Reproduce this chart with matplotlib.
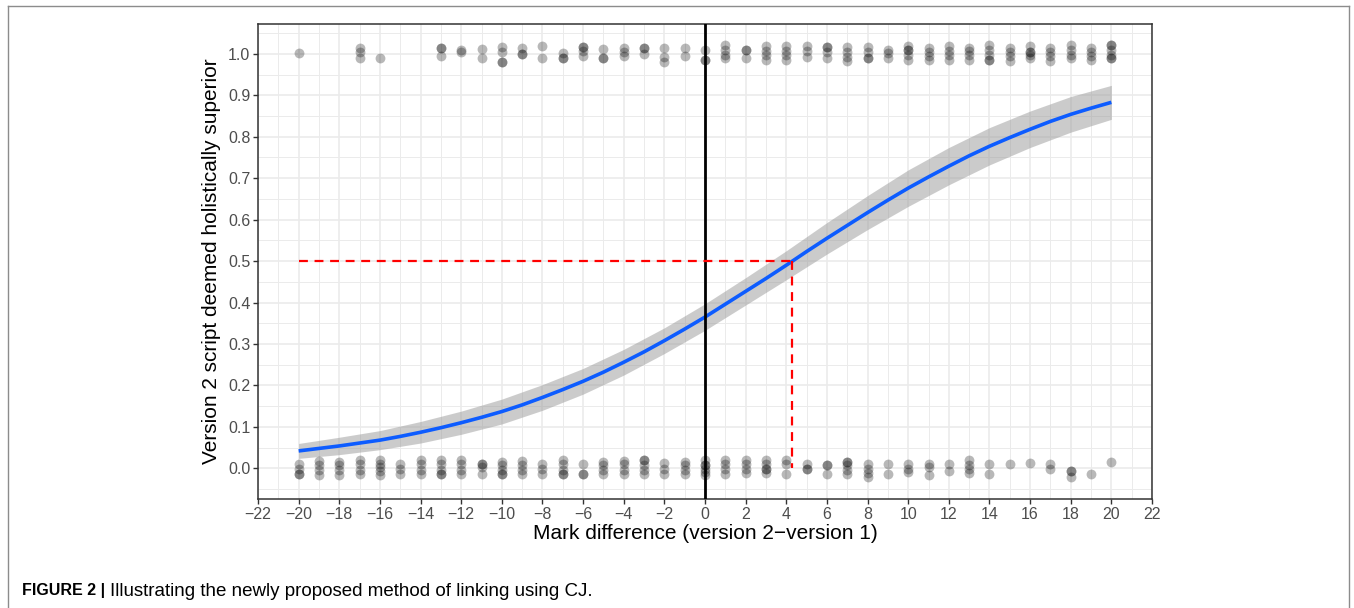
# logistic link plot, CJ mark difference
import numpy as np
import matplotlib
matplotlib.use('Agg')
from matplotlib import pyplot as plt
from matplotlib.lines import Line2D

plt.rcParams['font.family'] = ['Liberation Sans', 'DejaVu Sans']

# fitted curve, x = -20..20
curve_x = list(range(-20, 21))
curve_p = [0.042, 0.048, 0.054, 0.061, 0.068, 0.077, 0.087, 0.098, 0.110, 0.123,
           0.137, 0.153, 0.171, 0.190, 0.210, 0.232, 0.256, 0.281, 0.308, 0.336,
           0.365, 0.396, 0.427, 0.458, 0.490, 0.523, 0.555, 0.586, 0.617, 0.647,
           0.676, 0.703, 0.729, 0.754, 0.777, 0.798, 0.818, 0.837, 0.854, 0.869,
           0.883]

# confidence band, x = -20..20 by 2
band_x = list(range(-20, 21, 2))
band_lo = [0.024, 0.033, 0.045, 0.061, 0.082, 0.107, 0.140, 0.179, 0.225, 0.277,
           0.333, 0.394, 0.455, 0.517, 0.576, 0.632, 0.684, 0.732, 0.774, 0.811,
           0.842]
band_hi = [0.060, 0.075, 0.091, 0.113, 0.138, 0.167, 0.202, 0.241, 0.287, 0.339,
           0.397, 0.460, 0.525, 0.593, 0.658, 0.720, 0.774, 0.822, 0.862, 0.897,
           0.924]

# jittered outcomes (repeats = overlapping observations)
top_pts = {
    -20: [0.003], -17: [0.015, 0.005, -0.009], -16: [-0.009],
    -13: [0.014, 0.014, -0.006], -12: [0.010, 0.005], -11: [0.012, -0.010],
    -10: [0.017, 0.005, -0.020, -0.020], -9: [0.014, 0.0, 0.0],
    -8: [0.020, -0.011], -7: [0.003, -0.010, -0.010],
    -6: [0.017, 0.017, 0.007, -0.006], -5: [0.012, -0.011, -0.011],
    -4: [0.013, 0.005, -0.006], -3: [0.015, 0.015, 0.0], -2: [0.013, -0.007, -0.019],
    -1: [0.013, -0.005], 0: [0.009, -0.015, -0.015],
    1: [0.021, 0.009, -0.003, -0.011], 2: [0.009, 0.009, -0.011],
    3: [0.018, 0.007, -0.003, -0.015], 4: [0.018, 0.007, -0.003, -0.015],
    5: [0.018, 0.007, -0.007], 6: [0.017, 0.017, 0.005, -0.011],
    7: [0.017, 0.005, -0.007, -0.017], 8: [0.017, 0.005, -0.011, -0.011],
    9: [0.010, 0.001, -0.009], 10: [0.018, 0.009, 0.009, -0.003, -0.014],
    11: [0.015, 0.005, -0.006, -0.015], 12: [0.018, 0.007, -0.003, -0.015],
    13: [0.015, 0.007, -0.003, -0.014], 14: [0.021, 0.009, -0.003, -0.015, -0.015],
    15: [0.015, 0.005, -0.006, -0.017], 16: [0.018, 0.005, 0.005, -0.003, -0.011],
    17: [0.013, 0.005, -0.006, -0.017], 18: [0.021, 0.009, -0.003, -0.011],
    19: [0.015, 0.005, -0.006, -0.014], 20: [0.021, 0.021, 0.010, -0.003, -0.011, -0.011],
}
bottom_pts = {
    -20: [0.010, -0.001, -0.013, -0.013], -19: [0.018, 0.007, -0.005, -0.017],
    -18: [0.015, 0.007, -0.003, -0.017], -17: [0.019, 0.010, -0.003, -0.014],
    -16: [0.021, 0.011, 0.003, -0.006, -0.017], -15: [0.011, -0.001, -0.013],
    -14: [0.019, 0.010, -0.003, -0.013], -13: [0.019, 0.010, -0.003, -0.014, -0.014],
    -12: [0.019, 0.010, -0.003, -0.014], -11: [0.010, 0.010, 0.003, -0.013],
    -10: [0.015, 0.007, -0.003, -0.014, -0.014], -9: [0.018, 0.007, -0.003, -0.014],
    -8: [0.011, -0.001, -0.013], -7: [0.019, 0.010, -0.003, -0.013, -0.013],
    -6: [0.011, -0.013, -0.013], -5: [0.015, 0.007, -0.003, -0.014],
    -4: [0.018, 0.010, -0.003, -0.013], -3: [0.019, 0.019, 0.007, -0.003, -0.013],
    -2: [0.013, -0.001, -0.013], -1: [0.015, 0.007, -0.005, -0.014],
    0: [0.019, 0.007, 0.007, -0.001, -0.009, -0.017],
    1: [0.019, 0.010, -0.001, -0.014], 2: [0.019, 0.010, -0.001, -0.011],
    3: [0.021, 0.010, -0.001, -0.001, -0.011], 4: [0.019, 0.010, -0.013],
    5: [0.011, -0.001, -0.001], 6: [0.007, 0.007, -0.013], 7: [0.015, 0.015, 0.007, -0.003, -0.014],
    8: [0.011, -0.001, -0.011, -0.021], 9: [0.011, -0.013], 10: [0.011, -0.001, -0.009],
    11: [0.010, 0.003, -0.017], 12: [0.011, -0.006], 13: [0.019, 0.007, -0.001, -0.011],
    14: [0.011, -0.014], 15: [0.010], 16: [0.013], 17: [0.011, -0.001],
    18: [-0.006, -0.006, -0.021], 19: [-0.013], 20: [0.015],
}

threshold_p = 0.5
threshold_x = 4.3

fig = plt.figure(figsize=(13.54, 6.08), dpi=100)
ax = fig.add_axes([258/1354, 109/608, 894/1354, 475/608])

# band and fitted curve
ax.fill_between(band_x, band_lo, band_hi, color='#999999', alpha=0.5, lw=0, zorder=2)
ax.plot(curve_x, curve_p, color='#0d5cff', lw=2.6, zorder=4, solid_capstyle='butt')

# points
for base, pts in ((1.0, top_pts), (0.0, bottom_pts)):
    xs = [k for k, v in pts.items() for _ in v]
    ys = [base + j for v in pts.values() for j in v]
    ax.scatter(xs, ys, s=50, color='black', alpha=0.28, lw=0, zorder=3)

# reference lines
ax.axvline(0, color='black', lw=2, zorder=5)
ax.plot([-20, threshold_x], [threshold_p, threshold_p], color='#ff0000', lw=1.6,
        ls=(0, (4, 3)), zorder=6)
ax.plot([threshold_x, threshold_x], [threshold_p, 0.0], color='#ff0000', lw=1.6,
        ls=(0, (4, 3)), zorder=6)

# axes, ggplot bw look
ax.set_xlim(-22, 22)
ax.set_ylim(-0.074, 1.072)
ax.set_xticks(np.arange(-22, 23, 2))
ax.set_xticks(np.arange(-21, 22, 2), minor=True)
ax.set_yticks(np.arange(0, 1.01, 0.1))
ax.set_yticks(np.arange(-0.05, 1.06, 0.1), minor=True)
ax.set_xticklabels([str(v).replace('-', '\u2212') for v in range(-22, 23, 2)])
ax.set_yticklabels(['%.1f' % v for v in np.arange(0, 1.01, 0.1)])
ax.grid(which='major', color='#ebebeb', lw=1.2, zorder=0)
ax.grid(which='minor', color='#ebebeb', lw=0.7, zorder=0)
ax.set_axisbelow(True)
ax.tick_params(which='major', length=3.5, width=1, color='#333333',
               labelcolor='#4d4d4d', labelsize=11.5, pad=2)
ax.tick_params(which='minor', length=0)
for s in ax.spines.values():
    s.set_color('#333333')
    s.set_linewidth(1.1)

ax.set_xlabel('Mark difference (version 2\u2212version 1)', fontsize=15, labelpad=2)
ax.set_ylabel('Version 2 script deemed holistically superior', fontsize=15, labelpad=5)

# caption: regular text placed right after the bold label
cap_y = 1 - 591/608
t1 = fig.text(22/1354, cap_y, 'FIGURE 2 |', fontsize=11.5, fontweight='bold', va='center')
fig.canvas.draw()
bb = t1.get_window_extent(renderer=fig.canvas.get_renderer())
fig.text((bb.x1 + 5)/1354, cap_y, 'Illustrating the newly proposed method of linking using CJ.',
         fontsize=13.5, va='center')

# outer frame
fc = '#8c8c8c'
fig.add_artist(Line2D([8/1354, 8/1354], [0, 1 - 6/608], color=fc, lw=1))
fig.add_artist(Line2D([8/1354, 1349/1354], [1 - 6/608, 1 - 6/608], color=fc, lw=1))
fig.add_artist(Line2D([1349/1354, 1349/1354], [0, 1 - 6/608], color=fc, lw=1))

fig.savefig('out.png', dpi=100)
